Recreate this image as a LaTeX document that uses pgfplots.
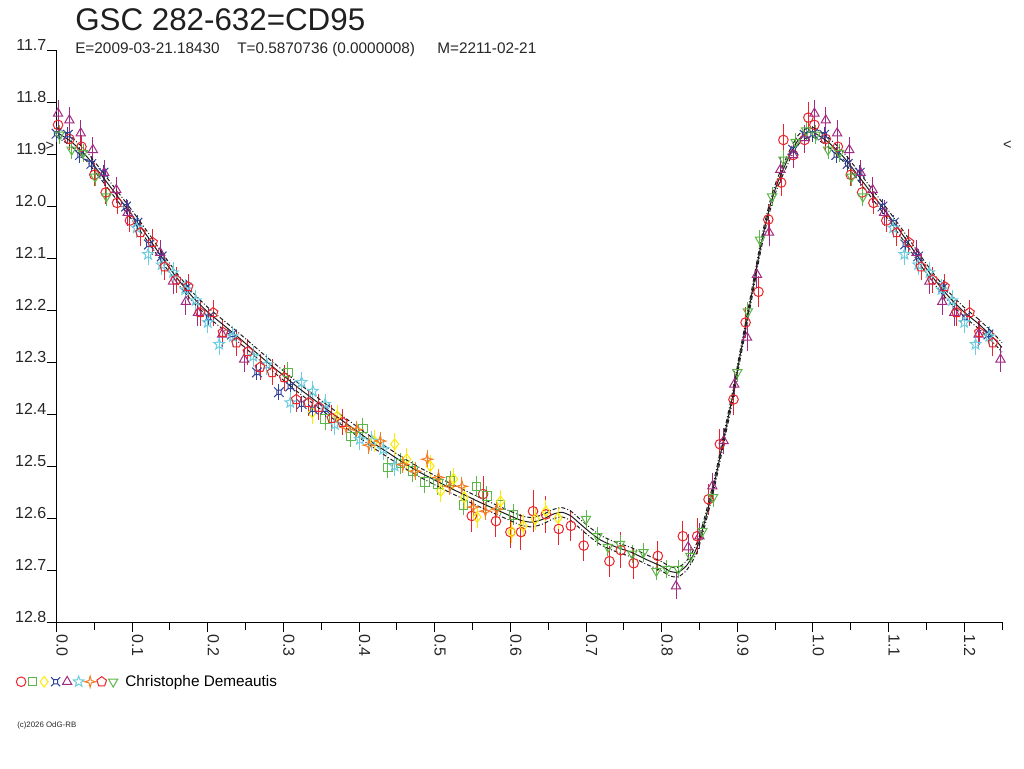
\documentclass[border=0pt]{standalone}
\usepackage{fontspec}
\setmainfont{Liberation Sans}
\usepackage{pgfplots}
\usepackage{pgfplotstable}
\pgfplotsset{compat=1.18}
\usetikzlibrary{plotmarks}

\definecolor{cRed}{RGB}{234,36,42}
\definecolor{cGreen}{RGB}{92,183,72}
\definecolor{cYellow}{RGB}{250,235,0}
\definecolor{cBlue}{RGB}{46,66,155}
\definecolor{cPurple}{RGB}{161,42,131}
\definecolor{cCyan}{RGB}{109,204,221}
\definecolor{cOrange}{RGB}{242,127,38}
\definecolor{cFit}{RGB}{30,30,30}

\pgfdeclareplotmark{ostar}{%
  \pgfpathmoveto{\pgfpointpolar{90}{\pgfplotmarksize}}%
  \pgfpathlineto{\pgfpointpolar{126}{0.42\pgfplotmarksize}}%
  \pgfpathlineto{\pgfpointpolar{162}{\pgfplotmarksize}}%
  \pgfpathlineto{\pgfpointpolar{198}{0.42\pgfplotmarksize}}%
  \pgfpathlineto{\pgfpointpolar{234}{\pgfplotmarksize}}%
  \pgfpathlineto{\pgfpointpolar{270}{0.42\pgfplotmarksize}}%
  \pgfpathlineto{\pgfpointpolar{306}{\pgfplotmarksize}}%
  \pgfpathlineto{\pgfpointpolar{342}{0.42\pgfplotmarksize}}%
  \pgfpathlineto{\pgfpointpolar{18}{\pgfplotmarksize}}%
  \pgfpathlineto{\pgfpointpolar{54}{0.42\pgfplotmarksize}}%
  \pgfpathclose\pgfusepathqstroke}
\pgfdeclareplotmark{sparkle}{%
  \pgfpathmoveto{\pgfpointpolar{90}{\pgfplotmarksize}}%
  \pgfpathlineto{\pgfpointpolar{135}{0.3\pgfplotmarksize}}%
  \pgfpathlineto{\pgfpointpolar{180}{\pgfplotmarksize}}%
  \pgfpathlineto{\pgfpointpolar{225}{0.3\pgfplotmarksize}}%
  \pgfpathlineto{\pgfpointpolar{270}{\pgfplotmarksize}}%
  \pgfpathlineto{\pgfpointpolar{315}{0.3\pgfplotmarksize}}%
  \pgfpathlineto{\pgfpointpolar{0}{\pgfplotmarksize}}%
  \pgfpathlineto{\pgfpointpolar{45}{0.3\pgfplotmarksize}}%
  \pgfpathclose\pgfusepathqstroke}
\pgfdeclareplotmark{curr}{%
  \pgfpathrectangle{\pgfpoint{-0.45\pgfplotmarksize}{-0.45\pgfplotmarksize}}{\pgfpoint{0.9\pgfplotmarksize}{0.9\pgfplotmarksize}}%
  \pgfpathmoveto{\pgfpoint{-0.45\pgfplotmarksize}{-0.45\pgfplotmarksize}}\pgfpathlineto{\pgfpoint{-\pgfplotmarksize}{-\pgfplotmarksize}}%
  \pgfpathmoveto{\pgfpoint{0.45\pgfplotmarksize}{-0.45\pgfplotmarksize}}\pgfpathlineto{\pgfpoint{\pgfplotmarksize}{-\pgfplotmarksize}}%
  \pgfpathmoveto{\pgfpoint{-0.45\pgfplotmarksize}{0.45\pgfplotmarksize}}\pgfpathlineto{\pgfpoint{-\pgfplotmarksize}{\pgfplotmarksize}}%
  \pgfpathmoveto{\pgfpoint{0.45\pgfplotmarksize}{0.45\pgfplotmarksize}}\pgfpathlineto{\pgfpoint{\pgfplotmarksize}{\pgfplotmarksize}}%
  \pgfusepathqstroke}

% fitted light curve
\pgfplotstableread{
x y
0.000 11.858
0.020 11.877
0.040 11.905
0.060 11.942
0.080 11.980
0.100 12.018
0.120 12.058
0.140 12.100
0.160 12.140
0.180 12.175
0.200 12.204
0.220 12.228
0.240 12.252
0.260 12.277
0.280 12.302
0.300 12.326
0.320 12.350
0.340 12.372
0.360 12.394
0.380 12.415
0.400 12.436
0.420 12.457
0.440 12.476
0.460 12.495
0.480 12.512
0.500 12.527
0.520 12.542
0.540 12.556
0.560 12.570
0.580 12.583
0.600 12.596
0.615 12.605
0.628 12.608
0.642 12.603
0.656 12.593
0.668 12.589
0.680 12.596
0.692 12.611
0.705 12.627
0.720 12.643
0.740 12.656
0.760 12.666
0.780 12.680
0.800 12.693
0.812 12.703
0.822 12.704
0.832 12.693
0.840 12.676
0.848 12.652
0.856 12.612
0.864 12.567
0.872 12.518
0.880 12.462
0.888 12.407
0.896 12.350
0.904 12.285
0.912 12.225
0.920 12.163
0.928 12.100
0.936 12.043
0.944 11.996
0.952 11.960
0.960 11.932
0.970 11.900
0.980 11.874
0.990 11.861
1.000 11.858
1.020 11.877
1.040 11.905
1.060 11.942
1.080 11.980
1.100 12.018
1.120 12.058
1.140 12.100
1.160 12.140
1.180 12.175
1.200 12.204
1.220 12.228
1.240 12.256
1.250 12.272
}\tabFit

\pgfplotstableread{
x y e
0.002 11.844 0.022
0.017 11.871 0.022
0.033 11.886 0.022
0.050 11.940 0.022
0.065 11.974 0.022
0.080 11.994 0.022
0.097 12.028 0.022
0.549 12.596 0.030
0.564 12.554 0.035
0.581 12.606 0.030
0.600 12.627 0.030
0.614 12.627 0.035
0.630 12.587 0.040
0.647 12.593 0.035
0.664 12.621 0.030
0.680 12.615 0.030
0.697 12.653 0.030
0.731 12.683 0.030
0.746 12.662 0.035
0.763 12.687 0.030
0.795 12.673 0.028
0.828 12.635 0.030
0.847 12.635 0.035
0.862 12.564 0.030
0.877 12.458 0.030
0.895 12.372 0.030
0.911 12.224 0.030
0.928 12.165 0.030
0.941 12.026 0.030
0.958 11.955 0.025
0.961 11.873 0.030
0.974 11.902 0.025
0.989 11.873 0.025
0.994 11.830 0.030
1.002 11.844 0.022
1.017 11.871 0.022
1.033 11.886 0.022
1.050 11.940 0.022
1.065 11.974 0.022
1.080 11.994 0.022
1.097 12.028 0.022
}\tabRedC

\pgfplotstableread{
x y e
0.306 12.320 0.020
0.355 12.410 0.020
0.389 12.443 0.020
0.405 12.428 0.020
0.438 12.503 0.020
0.455 12.495 0.020
0.471 12.510 0.020
0.487 12.531 0.020
0.504 12.535 0.020
0.521 12.529 0.020
0.538 12.575 0.020
0.555 12.539 0.020
0.569 12.558 0.020
0.587 12.575 0.020
0.604 12.594 0.020
}\tabGreenS

\pgfplotstableread{
x y e
0.338 12.397 0.022
0.371 12.404 0.022
0.420 12.452 0.022
0.447 12.458 0.022
0.463 12.487 0.022
0.494 12.500 0.022
0.508 12.548 0.022
0.525 12.525 0.022
0.539 12.560 0.022
0.556 12.598 0.022
0.587 12.568 0.022
0.602 12.627 0.022
0.617 12.615 0.022
0.633 12.602 0.022
0.647 12.587 0.022
0.663 12.600 0.022
}\tabYellow

\pgfplotstableread{
x y e
0.000 11.861 0.015
0.015 11.863 0.015
0.031 11.902 0.015
0.046 11.919 0.015
0.062 11.936 0.015
0.092 12.001 0.015
0.107 12.032 0.015
0.122 12.074 0.015
0.139 12.097 0.015
0.172 12.157 0.015
0.201 12.214 0.015
0.232 12.247 0.015
0.265 12.320 0.015
0.294 12.358 0.015
0.309 12.347 0.015
0.324 12.381 0.015
0.339 12.391 0.015
0.355 12.391 0.015
0.974 11.892 0.015
0.989 11.863 0.015
1.000 11.861 0.015
1.015 11.863 0.015
1.031 11.902 0.015
1.046 11.919 0.015
1.062 11.936 0.015
1.092 12.001 0.015
1.107 12.032 0.015
1.122 12.074 0.015
1.139 12.097 0.015
1.172 12.157 0.015
1.201 12.214 0.015
1.232 12.247 0.015
}\tabBlue

\pgfplotstableread{
x y e
0.002 11.822 0.025
0.017 11.835 0.025
0.032 11.860 0.025
0.048 11.892 0.025
0.063 11.936 0.025
0.079 11.969 0.025
0.094 12.013 0.025
0.137 12.090 0.025
0.154 12.145 0.025
0.171 12.184 0.025
0.187 12.205 0.025
0.219 12.247 0.025
0.248 12.295 0.025
0.819 12.731 0.025
0.835 12.656 0.025
0.850 12.635 0.025
0.867 12.539 0.025
0.882 12.452 0.025
0.896 12.343 0.025
0.913 12.253 0.025
0.926 12.132 0.025
0.942 12.051 0.025
0.957 11.930 0.025
0.974 11.902 0.025
0.989 11.869 0.025
1.002 11.822 0.025
1.017 11.835 0.025
1.032 11.860 0.025
1.048 11.892 0.025
1.063 11.936 0.025
1.079 11.969 0.025
1.094 12.013 0.025
1.137 12.090 0.025
1.154 12.145 0.025
1.171 12.184 0.025
1.187 12.205 0.025
1.219 12.247 0.025
1.248 12.295 0.025
}\tabPurple

\pgfplotstableread{
x y e
0.106 12.042 0.020
0.121 12.093 0.020
0.139 12.113 0.020
0.154 12.128 0.020
0.170 12.161 0.020
0.184 12.182 0.020
0.200 12.224 0.020
0.215 12.266 0.020
0.233 12.251 0.020
0.260 12.289 0.020
0.278 12.305 0.020
0.309 12.378 0.020
0.324 12.339 0.020
0.339 12.356 0.020
0.355 12.381 0.020
0.368 12.420 0.020
0.401 12.449 0.020
0.417 12.452 0.020
0.432 12.468 0.020
0.447 12.500 0.020
1.106 12.042 0.020
1.121 12.093 0.020
1.139 12.113 0.020
1.154 12.128 0.020
1.170 12.161 0.020
1.184 12.182 0.020
1.200 12.224 0.020
1.215 12.266 0.020
1.233 12.251 0.020
}\tabCyan

\pgfplotstableread{
x y e
0.383 12.426 0.017
0.397 12.430 0.017
0.413 12.460 0.017
0.428 12.452 0.017
0.458 12.497 0.017
0.474 12.510 0.017
0.490 12.487 0.017
0.505 12.522 0.017
0.520 12.539 0.017
0.536 12.539 0.017
0.551 12.579 0.017
0.567 12.587 0.017
0.582 12.583 0.017
}\tabOrange

\pgfplotstableread{
x y e
0.111 12.051 0.025
0.127 12.070 0.025
0.143 12.117 0.025
0.158 12.142 0.025
0.174 12.155 0.025
0.190 12.205 0.025
0.207 12.205 0.025
0.220 12.243 0.025
0.238 12.263 0.025
0.253 12.280 0.025
0.269 12.310 0.025
0.285 12.320 0.025
0.301 12.330 0.025
0.317 12.372 0.025
0.333 12.378 0.025
0.347 12.387 0.025
0.364 12.408 0.025
0.378 12.416 0.025
1.111 12.051 0.025
1.127 12.070 0.025
1.143 12.117 0.025
1.158 12.142 0.025
1.174 12.155 0.025
1.190 12.205 0.025
1.207 12.205 0.025
1.220 12.243 0.025
1.238 12.263 0.025
}\tabPent

\pgfplotstableread{
x y e
0.004 11.863 0.018
0.020 11.892 0.018
0.035 11.898 0.018
0.051 11.944 0.018
0.066 11.982 0.018
0.700 12.602 0.018
0.715 12.635 0.018
0.729 12.656 0.018
0.745 12.650 0.018
0.761 12.669 0.018
0.776 12.666 0.018
0.793 12.702 0.018
0.807 12.698 0.018
0.822 12.698 0.018
0.838 12.673 0.018
0.854 12.625 0.018
0.868 12.560 0.018
0.900 12.320 0.018
0.914 12.203 0.018
0.930 12.065 0.018
0.946 11.982 0.018
0.961 11.911 0.018
0.977 11.877 0.018
0.991 11.855 0.018
1.004 11.863 0.018
1.020 11.892 0.018
1.035 11.898 0.018
1.051 11.944 0.018
1.066 11.982 0.018
}\tabGreenT

\pgfplotsset{
  obs/.style={only marks, forget plot, line width=0.75pt, mark size=3.6pt,
    error bars/y dir=both, error bars/y explicit, error bars/error mark=none},
  ebar/.style={error bars/error bar style={line width=0.75pt, color=#1}},
}

\begin{document}
\begin{tikzpicture}
\path[use as bounding box] (0,0) rectangle (768pt,576pt);
\begin{axis}[
  at={(42.4pt,109.5pt)}, anchor=south west,
  scale only axis, width=709.1pt, height=429pt,
  xmin=0, xmax=1.25, ymin=11.7, ymax=12.8,
  y dir=reverse,
  clip=false,
  axis lines*=left,
  axis line style={line width=0.75pt, -},
  tick style={line width=0.75pt, black},
  tick align=outside,
  major tick length=7.5pt, minor tick length=6pt,
  xtick={0,0.1,...,1.21},
  minor xtick={0.05,0.15,...,1.26},
  ytick={11.7,11.8,...,12.81},
  /pgf/number format/assume math mode=true,
  xticklabel={\pgfmathprintnumber[fixed,fixed zerofill,precision=1]{\tick}},
  yticklabel={\pgfmathprintnumber[fixed,fixed zerofill,precision=1]{\tick}},
  ticklabel style={font=\fontsize{12}{14}\selectfont, text=black!85},
  xticklabel style={yshift=-1.5pt, rotate=-90, anchor=base west, inner sep=0pt},
  yticklabel style={anchor=base east, inner sep=0pt},
  legend style={draw=none, fill=none, at={(-0.0428,-0.1044)}, anchor=west,
    font=\fontsize{11.5}{13}\selectfont, inner sep=0pt},
  legend cell align=left,
]
\addplot[obs, cRed, mark=o, ebar=cRed] table[x=x,y=y,y error=e] {\tabRedC};
\addplot[obs, cGreen, mark=square, mark size=3.2pt, ebar=cGreen] table[x=x,y=y,y error=e] {\tabGreenS};
\addplot[obs, cYellow, mark=diamond, mark size=4pt, ebar=cYellow] table[x=x,y=y,y error=e] {\tabYellow};
\addplot[obs, cBlue, mark=curr, ebar=cBlue] table[x=x,y=y,y error=e] {\tabBlue};
\addplot[obs, cPurple, mark=triangle, mark size=4pt, ebar=cPurple] table[x=x,y=y,y error=e] {\tabPurple};
\addplot[obs, cCyan, mark=ostar, mark size=4.2pt, ebar=cCyan] table[x=x,y=y,y error=e] {\tabCyan};
\addplot[obs, cOrange, mark=sparkle, mark size=4.2pt, ebar=cOrange] table[x=x,y=y,y error=e] {\tabOrange};
\addplot[obs, cRed, mark=pentagon, mark size=3.8pt, ebar=cRed] table[x=x,y=y,y error=e] {\tabPent};
\addplot[obs, cGreen, mark=triangle, mark size=4pt, mark options={rotate=180}, ebar=cGreen] table[x=x,y=y,y error=e] {\tabGreenT};
% fit and envelopes
\addplot[forget plot, cFit, line width=0.75pt, smooth, tension=0.4] table[x=x,y=y] {\tabFit};
\addplot[forget plot, cFit, line width=0.75pt, smooth, tension=0.4, dash pattern=on 3pt off 1.5pt on 0.75pt off 1.5pt] table[x=x,y expr=\thisrow{y}+0.009] {\tabFit};
\addplot[forget plot, cFit, line width=0.75pt, smooth, tension=0.4, dash pattern=on 3pt off 1.5pt on 0.75pt off 1.5pt] table[x=x,y expr=\thisrow{y}-0.009] {\tabFit};
\addlegendimage{legend image code/.code={%
  \draw[cRed, line width=0.75pt] plot[mark=o, mark size=3.6pt] coordinates {(0pt,0pt)};
  \draw[cGreen, line width=0.75pt] plot[mark=square, mark size=3.2pt] coordinates {(8.63pt,0pt)};
  \draw[cYellow, line width=0.75pt] plot[mark=diamond, mark size=4pt] coordinates {(17.26pt,0pt)};
  \draw[cBlue, line width=0.75pt] plot[mark=curr, mark size=3.4pt] coordinates {(25.89pt,0pt)};
  \draw[cPurple, line width=0.75pt] plot[mark=triangle, mark size=4pt] coordinates {(34.52pt,0pt)};
  \draw[cCyan, line width=0.75pt] plot[mark=ostar, mark size=4.2pt] coordinates {(43.15pt,0pt)};
  \draw[cOrange, line width=0.75pt] plot[mark=sparkle, mark size=4.2pt] coordinates {(51.78pt,0pt)};
  \draw[cRed, line width=0.75pt] plot[mark=pentagon, mark size=3.8pt] coordinates {(60.41pt,0pt)};
  \draw[cGreen, line width=0.75pt] plot[mark=triangle, mark size=4pt, mark options={rotate=180}] coordinates {(69.04pt,0pt)};
  \path (76pt,0pt);
}}
\addlegendentry{Christophe Demeautis}
\end{axis}
\node[anchor=base west, inner sep=0pt, font=\fontsize{23.5}{26}\selectfont, text=black!88] at (56.25pt,552.75pt) {GSC 282-632=CD95};
\node[anchor=base west, inner sep=0pt, font=\fontsize{11.5}{13}\selectfont, text=black!85] at (56.25pt,535.5pt) {E=2009-03-21.18430};
\node[anchor=base west, inner sep=0pt, font=\fontsize{11.5}{13}\selectfont, text=black!85] at (177.75pt,535.5pt) {T=0.5870736 (0.0000008)};
\node[anchor=base west, inner sep=0pt, font=\fontsize{11.5}{13}\selectfont, text=black!85] at (327.75pt,535.5pt) {M=2211-02-21};
\node[inner sep=0pt, font=\fontsize{11}{12}\selectfont, text=black!85] at (37.5pt,466pt) {>};
\node[inner sep=0pt, font=\fontsize{11}{12}\selectfont, text=black!85] at (755.5pt,467pt) {<};
\node[anchor=base west, inner sep=0pt, font=\fontsize{5.9}{7}\selectfont, text=black!85] at (12.75pt,30.75pt) {(c)2026 OdG-RB};
\end{tikzpicture}
\end{document}
